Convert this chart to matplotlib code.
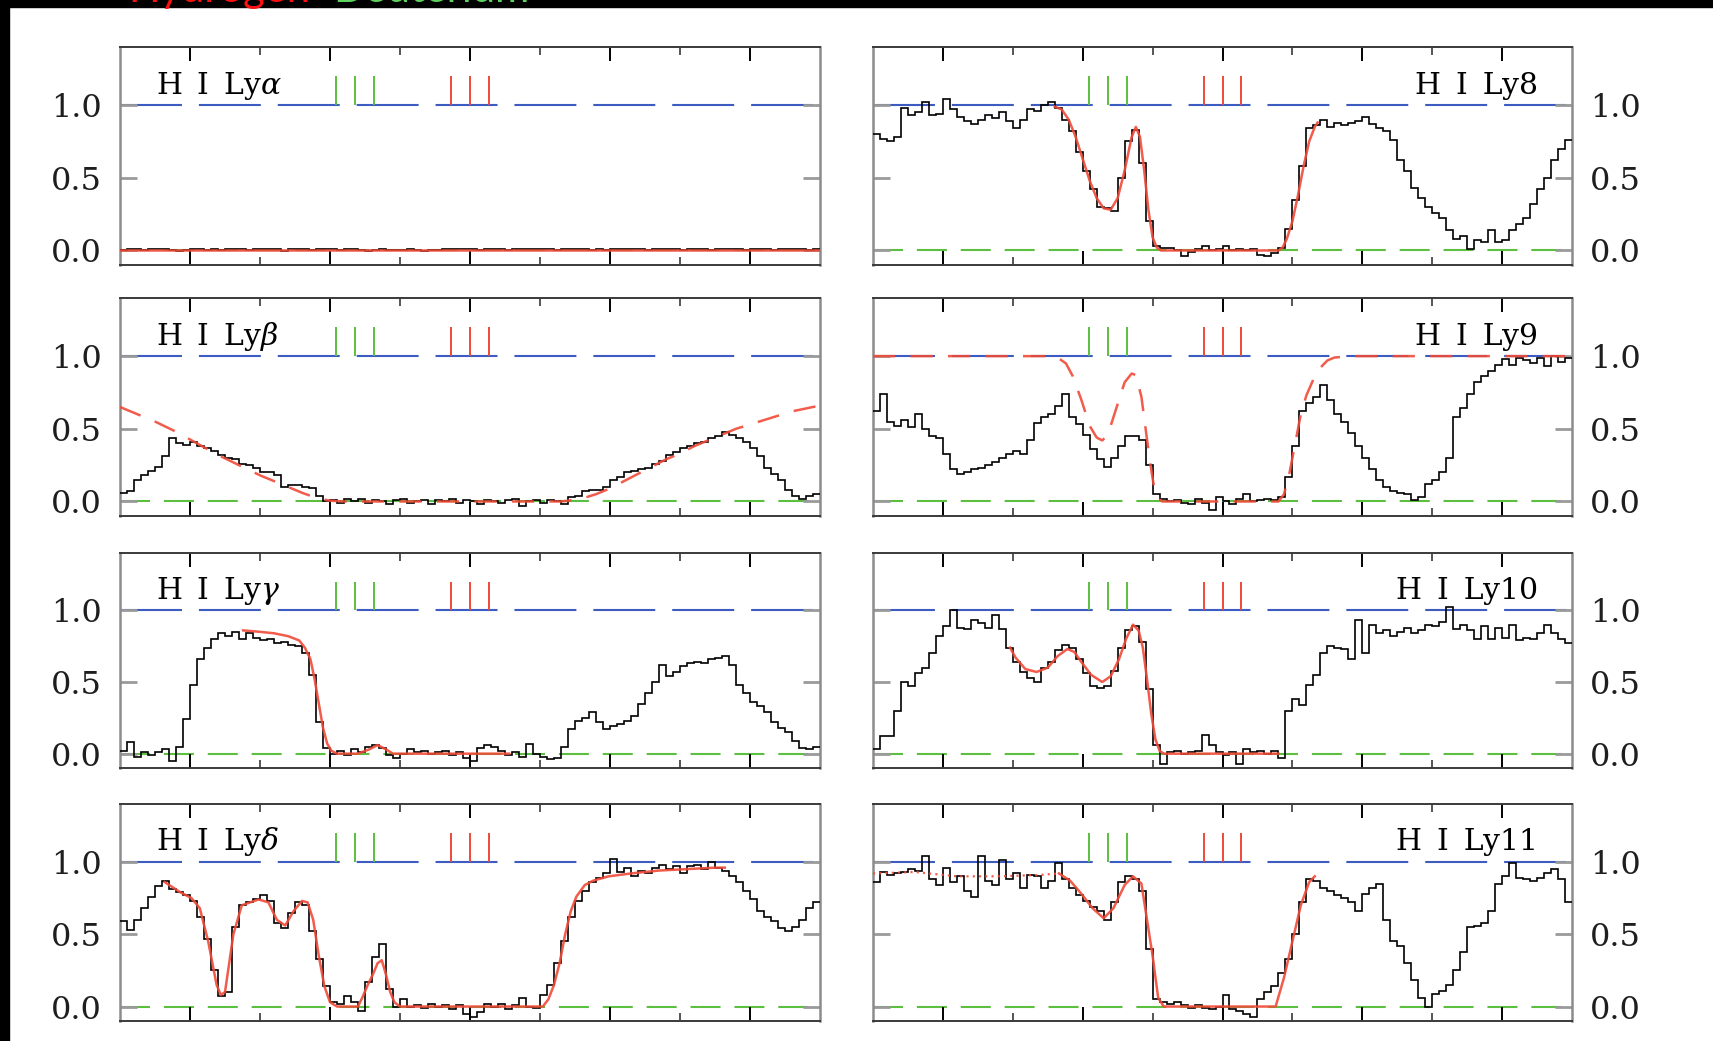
import numpy as np
import matplotlib
matplotlib.use("Agg")
import matplotlib.pyplot as plt
from matplotlib.patches import Rectangle

# Normalised flux, 5 km/s bins from -250 to +250 km/s (relative to H I)
lya_flux = [0.0, 0.012, 0.012, 0.0, 0.012, 0.012, 0.012, 0.0, -0.004, 0.0,
            0.012, 0.012, 0.0, 0.012, 0.0, 0.012, 0.012, 0.012, 0.0, 0.012,
            0.012, 0.012, 0.012, -0.004, 0.012, 0.012, 0.012, 0.0, 0.012, 0.012,
            0.012, 0.0, 0.012, 0.012, 0.0, -0.004, 0.0, 0.012, 0.0, 0.0,
            0.0, 0.012, 0.0, -0.004, 0.0, 0.0, 0.012, 0.012, 0.012, 0.012,
            0.012, 0.0, 0.012, 0.012, 0.012, 0.0, 0.012, 0.012, 0.012, 0.012,
            0.012, 0.012, 0.0, 0.012, 0.012, 0.012, 0.012, 0.0, 0.012, 0.0,
            0.012, 0.012, 0.012, 0.012, 0.012, 0.0, 0.012, 0.012, 0.012, 0.012,
            0.0, 0.012, 0.012, 0.012, 0.0, 0.012, 0.012, 0.012, 0.012, 0.0,
            0.012, 0.012, 0.012, 0.0, 0.012, 0.012, 0.012, 0.012, 0.0, 0.012]

lyb_flux = [0.06, 0.07, 0.15, 0.18, 0.21, 0.24, 0.31, 0.44, 0.40, 0.39,
            0.41, 0.38, 0.37, 0.35, 0.32, 0.30, 0.29, 0.26, 0.25, 0.23,
            0.20, 0.20, 0.18, 0.10, 0.11, 0.11, 0.10, 0.09, 0.04, 0.0,
            0.01, -0.01, 0.02, 0.0, 0.02, -0.01, 0.01, 0.0, -0.02, 0.01,
            0.02, -0.01, 0.0, 0.01, -0.02, 0.01, 0.0, 0.02, -0.01, 0.01,
            0.0, -0.02, 0.01, 0.0, -0.01, 0.01, 0.02, -0.03, 0.0, 0.01,
            -0.01, 0.01, 0.0, -0.02, 0.03, 0.04, 0.07, 0.08, 0.08, 0.10,
            0.15, 0.17, 0.20, 0.21, 0.22, 0.23, 0.26, 0.28, 0.32, 0.34,
            0.37, 0.38, 0.40, 0.41, 0.44, 0.45, 0.48, 0.46, 0.44, 0.41,
            0.37, 0.31, 0.23, 0.19, 0.15, 0.08, 0.04, 0.02, 0.04, 0.05]

lyg_flux = [0.02, 0.08, -0.02, 0.01, -0.01, 0.01, 0.03, -0.05, 0.05, 0.24,
            0.48, 0.66, 0.74, 0.80, 0.84, 0.82, 0.85, 0.80, 0.84, 0.81,
            0.79, 0.80, 0.77, 0.78, 0.76, 0.75, 0.70, 0.55, 0.22, 0.04,
            0.0, 0.02, -0.01, 0.03, 0.01, 0.05, 0.06, 0.04, -0.01, -0.03,
            0.0, 0.03, 0.01, 0.02, 0.0, 0.01, 0.02, -0.01, 0.01, -0.03,
            -0.05, 0.04, 0.06, 0.05, 0.02, -0.01, 0.01, -0.02, 0.07, 0.0,
            -0.02, -0.04, -0.03, 0.05, 0.17, 0.23, 0.25, 0.29, 0.22, 0.17,
            0.19, 0.21, 0.23, 0.26, 0.35, 0.42, 0.50, 0.62, 0.54, 0.57,
            0.61, 0.63, 0.64, 0.63, 0.66, 0.67, 0.68, 0.62, 0.48, 0.42,
            0.36, 0.33, 0.29, 0.22, 0.18, 0.15, 0.09, 0.04, 0.03, 0.05]

lyd_flux = [0.59, 0.53, 0.60, 0.68, 0.76, 0.83, 0.87, 0.81, 0.79, 0.77,
            0.73, 0.62, 0.47, 0.25, 0.07, 0.10, 0.55, 0.70, 0.72, 0.74,
            0.77, 0.73, 0.58, 0.54, 0.65, 0.72, 0.70, 0.52, 0.33, 0.14,
            0.03, 0.02, 0.07, 0.03, -0.03, 0.17, 0.34, 0.43, 0.12, 0.0,
            0.05, 0.0, 0.01, -0.01, 0.02, 0.0, 0.01, -0.02, 0.01, -0.05,
            -0.07, -0.04, 0.02, 0.0, 0.02, -0.02, 0.01, 0.06, 0.0, -0.01,
            0.08, 0.15, 0.30, 0.45, 0.62, 0.73, 0.80, 0.86, 0.89, 0.92,
            1.02, 0.93, 0.96, 0.90, 0.94, 0.92, 0.96, 0.98, 0.95, 0.97,
            0.92, 0.97, 0.98, 0.95, 1.0, 0.96, 0.94, 0.90, 0.86, 0.80,
            0.74, 0.66, 0.62, 0.59, 0.54, 0.52, 0.55, 0.60, 0.68, 0.72]

ly8_flux = [0.80, 0.77, 0.75, 0.78, 0.98, 0.93, 0.95, 1.02, 0.93, 0.94,
            1.04, 0.97, 0.92, 0.89, 0.87, 0.90, 0.93, 0.91, 0.95, 0.89,
            0.84, 0.90, 0.97, 0.96, 1.0, 1.02, 0.98, 0.90, 0.82, 0.68,
            0.55, 0.42, 0.30, 0.29, 0.27, 0.50, 0.75, 0.83, 0.60, 0.20,
            0.03, 0.02, 0.02, 0.0, -0.04, -0.01, 0.01, 0.03, 0.0, 0.01,
            0.03, 0.0, 0.01, 0.0, 0.01, -0.03, -0.04, -0.02, 0.02, 0.15,
            0.35, 0.58, 0.84, 0.86, 0.90, 0.85, 0.88, 0.86, 0.88, 0.89,
            0.92, 0.87, 0.84, 0.82, 0.76, 0.62, 0.55, 0.43, 0.36, 0.30,
            0.26, 0.22, 0.14, 0.08, 0.10, 0.01, 0.07, 0.06, 0.14, 0.06,
            0.07, 0.14, 0.18, 0.22, 0.32, 0.42, 0.50, 0.62, 0.70, 0.76]

ly9_flux = [0.62, 0.74, 0.55, 0.52, 0.56, 0.51, 0.60, 0.50, 0.45, 0.44,
            0.33, 0.22, 0.19, 0.20, 0.22, 0.23, 0.25, 0.27, 0.30, 0.33,
            0.35, 0.33, 0.42, 0.54, 0.58, 0.60, 0.66, 0.74, 0.58, 0.53,
            0.46, 0.36, 0.29, 0.24, 0.30, 0.38, 0.45, 0.45, 0.42, 0.25,
            0.05, 0.02, 0.0, 0.01, -0.01, -0.02, 0.02, -0.01, -0.06, 0.03,
            0.0, -0.02, 0.02, 0.05, 0.0, 0.01, 0.02, 0.01, 0.03, 0.17,
            0.38, 0.62, 0.68, 0.72, 0.80, 0.70, 0.60, 0.55, 0.47, 0.38,
            0.30, 0.22, 0.15, 0.10, 0.07, 0.06, 0.05, 0.01, 0.03, 0.12,
            0.15, 0.20, 0.30, 0.58, 0.64, 0.74, 0.82, 0.86, 0.90, 0.94,
            0.98, 0.94, 0.99, 0.97, 0.95, 0.99, 0.93, 1.0, 0.96, 0.99]

ly10_flux = [0.03, 0.12, 0.12, 0.30, 0.50, 0.47, 0.56, 0.60, 0.70, 0.82,
             0.89, 1.0, 0.88, 0.87, 0.93, 0.91, 0.88, 0.97, 0.87, 0.74,
             0.64, 0.57, 0.53, 0.50, 0.60, 0.64, 0.72, 0.76, 0.74, 0.66,
             0.56, 0.47, 0.46, 0.47, 0.58, 0.74, 0.86, 0.89, 0.78, 0.45,
             0.06, -0.07, 0.01, 0.02, 0.0, 0.01, 0.02, 0.13, 0.06, 0.01,
             -0.01, 0.01, -0.07, 0.03, 0.01, 0.02, 0.0, 0.02, -0.03, 0.30,
             0.38, 0.34, 0.48, 0.55, 0.70, 0.75, 0.74, 0.73, 0.66, 0.93,
             0.70, 0.90, 0.84, 0.86, 0.82, 0.85, 0.88, 0.84, 0.86, 0.90,
             0.89, 0.92, 1.02, 0.87, 0.90, 0.86, 0.80, 0.89, 0.80, 0.88,
             0.81, 0.90, 0.79, 0.81, 0.80, 0.84, 0.90, 0.84, 0.80, 0.77]

ly11_flux = [0.86, 0.93, 0.91, 0.92, 0.93, 0.95, 0.94, 1.04, 0.88, 0.84,
             0.96, 0.86, 0.90, 0.80, 0.76, 1.04, 0.87, 0.84, 1.01, 0.88,
             0.92, 0.82, 0.91, 0.90, 0.82, 0.87, 0.99, 0.88, 0.82, 0.77,
             0.73, 0.69, 0.66, 0.60, 0.72, 0.86, 0.90, 0.88, 0.80, 0.40,
             0.05, 0.03, 0.02, 0.03, 0.01, -0.01, 0.01, -0.01, -0.02, 0.0,
             0.08, -0.02, -0.03, -0.05, -0.07, 0.05, 0.10, 0.14, 0.23, 0.33,
             0.50, 0.72, 0.88, 0.87, 0.82, 0.80, 0.77, 0.75, 0.72, 0.66,
             0.78, 0.82, 0.85, 0.60, 0.45, 0.42, 0.30, 0.18, 0.06, 0.0,
             0.09, 0.11, 0.15, 0.25, 0.38, 0.55, 0.56, 0.58, 0.66, 0.85,
             0.90, 0.99, 0.89, 0.88, 0.87, 0.89, 0.92, 0.95, 0.88, 0.72]

# Model profiles (velocity, flux)
lya_mod_v = [-250, 250]
lya_mod_f = [0.0, 0.0]

lyb_mod_v = [-250, -240, -225, -210, -195, -180, -165, -150, -135, -120, -110, -100, -90,
             65, 70, 80, 90, 100, 110, 120, 130, 140, 150, 160, 170, 180, 190, 200,
             210, 220, 230, 240, 250]
lyb_mod_f = [0.65, 0.61, 0.55, 0.48, 0.40, 0.32, 0.25, 0.18, 0.12, 0.06, 0.025, 0.005, 0.0,
             0.0, 0.005, 0.02, 0.05, 0.09, 0.14, 0.19, 0.24, 0.29, 0.33, 0.38, 0.42, 0.46,
             0.50, 0.53, 0.56, 0.59, 0.62, 0.64, 0.66]

lyg_mod_v = [-162, -150, -140, -130, -122, -118, -114, -111, -108, -105, -102, -99, -95,
             -80, -72, -66, -60, -55, 28]
lyg_mod_f = [0.86, 0.85, 0.84, 0.82, 0.79, 0.74, 0.66, 0.52, 0.35, 0.18, 0.07, 0.02, 0.0,
             0.0, 0.03, 0.06, 0.03, 0.0, 0.0]

lyd_mod_v = [-218, -207, -199, -193, -187, -181, -178, -175, -169, -163, -151, -144, -138,
             -132, -126, -120, -116, -112, -108, -104, -100, -95, -80, -77, -73, -69, -66,
             -63, -60, -57, -54, -50, 52, 56, 60, 64, 68, 72, 76, 82, 88, 99, 115, 135,
             155, 175, 182]
lyd_mod_f = [0.86, 0.79, 0.75, 0.68, 0.45, 0.15, 0.08, 0.10, 0.50, 0.70, 0.74, 0.72, 0.60,
             0.56, 0.66, 0.73, 0.72, 0.60, 0.35, 0.14, 0.03, 0.0, 0.0, 0.06, 0.15, 0.23, 0.30,
             0.32, 0.22, 0.10, 0.03, 0.0, 0.0, 0.05, 0.15, 0.30, 0.50, 0.66, 0.76, 0.84, 0.87,
             0.90, 0.92, 0.94, 0.95, 0.96, 0.96]

ly8_mod_v = [-120, -115, -110, -105, -100, -95, -90, -85, -80, -75, -70, -65, -62, -59, -56,
             -53, -50, -47, -44, 40, 43, 46, 50, 54, 58, 62, 66, 68]
ly8_mod_f = [0.99, 0.97, 0.90, 0.78, 0.63, 0.48, 0.36, 0.29, 0.28, 0.36, 0.55, 0.78, 0.85,
             0.78, 0.55, 0.28, 0.09, 0.02, 0.0, 0.0, 0.02, 0.08, 0.20, 0.38, 0.58, 0.75,
             0.85, 0.88]

ly9_mod_v = [-250, -125, -118, -112, -107, -101, -95, -90, -86, -82, -76, -70, -65, -62, -58,
             -55, -52, -49, -46, -43, 40, 44, 48, 52, 56, 60, 65, 70, 75, 80, 90, 250]
ly9_mod_f = [1.0, 1.0, 0.99, 0.95, 0.86, 0.70, 0.52, 0.44, 0.42, 0.46, 0.64, 0.82, 0.88,
             0.87, 0.72, 0.50, 0.28, 0.10, 0.02, 0.0, 0.0, 0.05, 0.20, 0.40, 0.60, 0.73,
             0.84, 0.92, 0.97, 0.99, 1.0, 1.0]

ly10_mod_v = [-152, -148, -141, -133, -125, -118, -111, -106, -101, -94, -86, -80, -74, -69,
              -64, -60, -57, -54, -51, -48, -45, -42, 40]
ly10_mod_f = [0.74, 0.67, 0.59, 0.57, 0.60, 0.68, 0.73, 0.71, 0.64, 0.55, 0.50, 0.54, 0.66,
              0.80, 0.90, 0.86, 0.74, 0.52, 0.28, 0.10, 0.02, 0.0, 0.0]

ly11_ext_v = [-250, -220, -190, -160, -130, -117]
ly11_ext_f = [0.92, 0.93, 0.90, 0.90, 0.91, 0.92]
ly11_mod_v = [-117, -109, -101, -93, -85, -78, -70, -64, -58, -54, -50, -46, -42, 38, 44, 50,
              56, 62, 66]
ly11_mod_f = [0.92, 0.87, 0.78, 0.68, 0.61, 0.68, 0.84, 0.90, 0.85, 0.60, 0.35, 0.06, 0.0,
              0.0, 0.20, 0.45, 0.70, 0.86, 0.90]

# component positions (km/s): D I is shifted by -82 km/s from H I
h_comps = [-13.5, 0.0, 13.5]
d_comps = [-95.5, -82.0, -68.5]

BLUE = '#3d5cc2'
GREEN = '#5cbf3f'
RED = '#f04a38'
SERIF = ['DejaVu Serif']
SP = '\u2002'   # en space between the ion and transition names

plt.rcParams['lines.scale_dashes'] = False
plt.rcParams['mathtext.fontset'] = 'dejavuserif'

W, H = 1713.0, 1041.0
fig = plt.figure(figsize=(W / 100, H / 100), dpi=100)

# slide background strips and the cut-off heading
fig.patches.append(Rectangle((0, 1 - 7 / H), 1, 7 / H, transform=fig.transFigure,
                             color='black', zorder=0))
fig.patches.append(Rectangle((0, 0), 9 / W, 1, transform=fig.transFigure,
                             color='black', zorder=0))
fig.text(128 / W, 1 - 2 / H, 'Hydrogen', color='#ff1010', fontsize=30,
         family='Lato', va='baseline')
fig.text(333 / W, 1 - 2 / H, 'Deuterium', color='#5fd35f', fontsize=30,
         family='Lato', va='baseline')

row_tops = [47, 298, 553, 804]
row_bottoms = [265, 516, 768, 1021]
col_lefts = [120, 873]
col_widths = [700, 699]


def make_axes(row, col):
    left, width = col_lefts[col], col_widths[col]
    top, bottom = row_tops[row], row_bottoms[row]
    ax = fig.add_axes([left / W, 1 - bottom / H, width / W, (bottom - top) / H])
    ax.set_xlim(-250, 250)
    ax.set_ylim(-0.1, 1.4)

    ax.set_xticks([-200, -100, 0, 100, 200])
    ax.set_xticks([-150, -50, 50, 150], minor=True)
    ax.tick_params(axis='x', which='major', direction='in', top=True, bottom=True,
                   labelbottom=False, length=10, width=1.4, color='black')
    ax.tick_params(axis='x', which='minor', direction='in', top=True, bottom=True,
                   length=6, width=1.4, color='#555555')

    ax.set_yticks([0.0, 0.5, 1.0])
    ax.set_yticklabels(['0.0', '0.5', '1.0'])
    ax.tick_params(axis='y', direction='in', left=True, right=True, length=12,
                   width=2.0, color='#9a9a9a', labelsize=23, labelcolor='#1e1e1e',
                   labelleft=(col == 0), labelright=(col == 1), pad=13)
    for lab in ax.get_yticklabels():
        lab.set_family(SERIF)

    for side in ['left', 'right']:
        ax.spines[side].set_color('#8c8c8c')
        ax.spines[side].set_linewidth(1.8)
    for side in ['top', 'bottom']:
        ax.spines[side].set_color('#3a3a3a')
        ax.spines[side].set_linewidth(1.4)
    return ax


def draw_panel(ax, flux, label, col):
    # continuum and zero level
    ax.plot([-250, 250], [1, 1], color=BLUE, lw=1.5, dashes=(44.6, 12.2), zorder=1)
    ax.plot([-250, 250], [0, 0], color=GREEN, lw=1.5, dashes=(21.6, 10.0), zorder=1)

    # velocity components
    ax.vlines(d_comps, 1.0, 1.2, color=GREEN, lw=1.4, zorder=2)
    ax.vlines(h_comps, 1.0, 1.2, color=RED, lw=1.4, zorder=2)

    edges = -250 + 5 * np.arange(len(flux) + 1)
    ax.stairs(flux, edges, baseline=None, color='black', lw=1.2, zorder=3)

    text = 'H' + SP + 'I' + SP + label
    if col == 0:
        ax.text(-224, 1.08, text, fontsize=21.5, family=SERIF, ha='left', va='baseline')
    else:
        ax.text(226, 1.08, text, fontsize=21.5, family=SERIF, ha='right', va='baseline')


def solid_model(ax, v, f):
    ax.plot(v, f, color=RED, lw=1.8, alpha=0.9, zorder=4)


def dashed_model(ax, v, f):
    ax.plot(v, f, color=RED, lw=1.8, alpha=0.9, dashes=(16, 11), zorder=4)


# left column: Lyman alpha to delta
ax = make_axes(0, 0)
draw_panel(ax, lya_flux, r'Ly$\alpha$', 0)
solid_model(ax, lya_mod_v, lya_mod_f)

ax = make_axes(1, 0)
draw_panel(ax, lyb_flux, r'Ly$\beta$', 0)
dashed_model(ax, lyb_mod_v, lyb_mod_f)

ax = make_axes(2, 0)
draw_panel(ax, lyg_flux, r'Ly$\gamma$', 0)
solid_model(ax, lyg_mod_v, lyg_mod_f)

ax = make_axes(3, 0)
draw_panel(ax, lyd_flux, r'Ly$\delta$', 0)
solid_model(ax, lyd_mod_v, lyd_mod_f)

# right column: Lyman 8 to 11
ax = make_axes(0, 1)
draw_panel(ax, ly8_flux, 'Ly8', 1)
solid_model(ax, ly8_mod_v, ly8_mod_f)

ax = make_axes(1, 1)
draw_panel(ax, ly9_flux, 'Ly9', 1)
dashed_model(ax, ly9_mod_v, ly9_mod_f)

ax = make_axes(2, 1)
draw_panel(ax, ly10_flux, 'Ly10', 1)
solid_model(ax, ly10_mod_v, ly10_mod_f)

ax = make_axes(3, 1)
draw_panel(ax, ly11_flux, 'Ly11', 1)
ax.plot(ly11_ext_v, ly11_ext_f, color=RED, lw=1.6, dashes=(1.5, 3), alpha=0.9, zorder=4)
solid_model(ax, ly11_mod_v, ly11_mod_f)

fig.savefig('out.png', dpi=100)
